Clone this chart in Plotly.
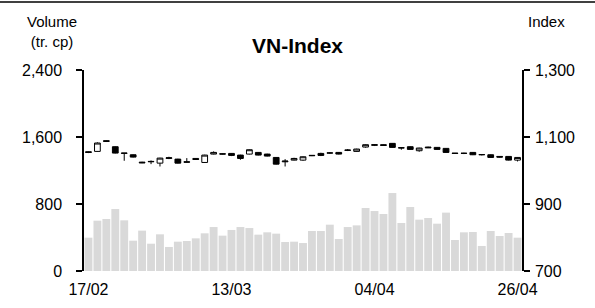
import plotly.graph_objects as go

dates = ["17/02","20/02","21/02","22/02","23/02","24/02","27/02","28/02","01/03","02/03",
         "03/03","06/03","07/03","08/03","09/03","10/03","13/03","14/03","15/03","16/03",
         "17/03","20/03","21/03","22/03","23/03","24/03","27/03","28/03","29/03","30/03",
         "31/03","03/04","04/04","05/04","06/04","07/04","10/04","11/04","12/04","13/04",
         "14/04","17/04","18/04","19/04","20/04","21/04","24/04","25/04","26/04"]

volume = [398, 601, 621, 740, 605, 362, 482, 326, 438, 287,
          350, 358, 390, 450, 525, 422, 490, 525, 513, 434,
          462, 446, 346, 350, 334, 478, 478, 553, 382, 525,
          545, 752, 716, 681, 931, 573, 764, 613, 633, 565,
          697, 370, 462, 466, 299, 478, 418, 454, 398]

idx_open  = [1056, 1057, 1089, 1071, 1051, 1047, 1025, 1026, 1022, 1036,
             1034, 1026, 1036, 1024, 1049, 1050, 1051, 1046, 1049, 1054,
             1049, 1039, 1026, 1031, 1031, 1044, 1051, 1052, 1054, 1060,
             1057, 1070, 1075, 1077, 1081, 1067, 1071, 1059, 1070, 1069,
             1066, 1052, 1051, 1054, 1047, 1047, 1042, 1042, 1031]
idx_high  = [1057, 1084, 1090, 1072, 1052, 1048, 1026, 1030, 1038, 1041,
             1035, 1037, 1037, 1047, 1057, 1051, 1052, 1047, 1063, 1055,
             1050, 1040, 1034, 1038, 1042, 1046, 1053, 1055, 1055, 1064,
             1065, 1078, 1078, 1078, 1082, 1069, 1072, 1068, 1071, 1070,
             1067, 1052, 1053, 1055, 1049, 1048, 1043, 1043, 1040]
idx_low   = [1052, 1056, 1085, 1051, 1029, 1039, 1022, 1019, 1012, 1034,
             1021, 1024, 1032, 1023, 1048, 1048, 1043, 1032, 1048, 1045,
             1042, 1018, 1012, 1030, 1029, 1043, 1043, 1050, 1048, 1058,
             1056, 1068, 1073, 1074, 1068, 1062, 1062, 1056, 1067, 1062,
             1053, 1050, 1049, 1046, 1045, 1038, 1039, 1030, 1027]
idx_close = [1054, 1082, 1087, 1052, 1052, 1040, 1023, 1027, 1037, 1038,
             1022, 1025, 1033, 1046, 1054, 1049, 1045, 1036, 1062, 1046,
             1043, 1019, 1028, 1036, 1041, 1045, 1045, 1052.5, 1049, 1061,
             1064, 1077, 1077, 1075, 1069, 1068, 1063, 1067, 1068, 1063,
             1054, 1051, 1051.5, 1047, 1047.5, 1039, 1040, 1031, 1039]

tick_dates = ["17/02", "13/03", "04/04", "26/04"]

FONT = "Liberation Sans, Arial, sans-serif"
L, R, T, B = 84, 522, 70, 271
W, H = 595, 308

def px(x):
    return (x - L) / (R - L)

def py(y):
    return (B - y) / (B - T)

fig = go.Figure()
fig.add_trace(go.Bar(x=dates, y=volume, marker=dict(color="#D9D9D9", line=dict(width=0)),
                     yaxis="y", showlegend=False))
fig.add_trace(go.Candlestick(x=dates, open=idx_open, high=idx_high, low=idx_low, close=idx_close,
                             yaxis="y2", showlegend=False, whiskerwidth=0,
                             increasing=dict(line=dict(color="black", width=1), fillcolor="white"),
                             decreasing=dict(line=dict(color="black", width=1), fillcolor="black")))

fig.update_layout(
    width=W, height=H,
    margin=dict(l=L, r=W - R, t=T, b=H - B, pad=0),
    paper_bgcolor="white", plot_bgcolor="white",
    font=dict(family=FONT, size=16, color="black"),
    bargap=0.12, boxgap=0.08,
    showlegend=False,
    xaxis=dict(type="category", categoryorder="array", categoryarray=dates,
               range=[-0.5, len(dates) - 0.5],
               tickvals=tick_dates, ticktext=tick_dates, ticks="", showline=False,
               showgrid=False, zeroline=False, rangeslider=dict(visible=False),
               tickfont=dict(size=16), ticklabelstandoff=7, automargin=False),
    yaxis=dict(range=[0, 2400], tickvals=[0, 800, 1600, 2400], tickformat=",",
               ticks="outside", ticklen=6, tickwidth=1.5, tickcolor="black",
               showline=True, linecolor="black", linewidth=1.5, automargin=False,
               showgrid=False, zeroline=False, tickfont=dict(size=16), ticklabelstandoff=11),
    yaxis2=dict(range=[700, 1300], tickvals=[700, 900, 1100, 1300], tickformat=",",
                overlaying="y", side="right", automargin=False,
                ticks="outside", ticklen=6, tickwidth=1.5, tickcolor="black",
                showline=True, linecolor="black", linewidth=1.5, ticklabelstandoff=2,
                showgrid=False, zeroline=False, tickfont=dict(size=16)),
)

fig.add_annotation(text="Volume<br>(tr. cp)", x=px(52), y=py(32), xref="paper", yref="paper",
                   showarrow=False, font=dict(size=15), xanchor="center", yanchor="middle")
fig.add_annotation(text="Index", x=px(546), y=py(22), xref="paper", yref="paper",
                   showarrow=False, font=dict(size=15), xanchor="center", yanchor="middle")
fig.add_annotation(text="<b>VN-Index</b>", x=px(297), y=py(45), xref="paper", yref="paper",
                   showarrow=False, font=dict(size=21), xanchor="center", yanchor="middle")
fig.add_shape(type="line", xref="paper", yref="paper", x0=px(0), x1=px(595), y0=py(2), y1=py(2),
              line=dict(color="black", width=1.5))

fig.write_html("out.html", config={"displayModeBar": False},
               post_script="document.body.style.margin='0px';")
